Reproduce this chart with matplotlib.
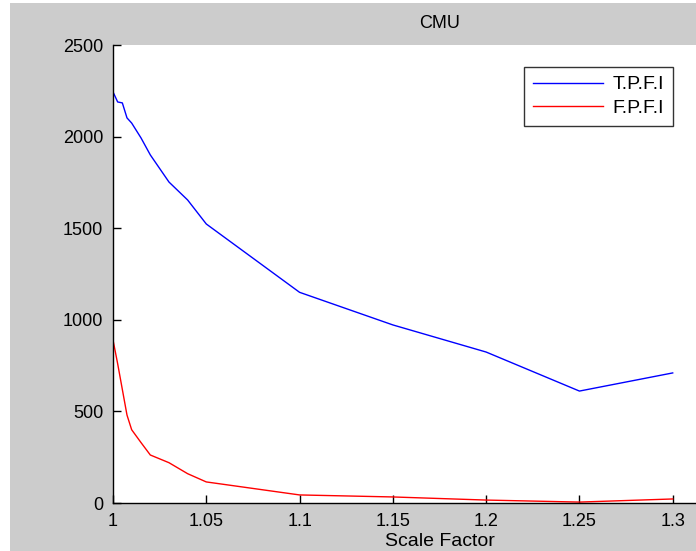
# CMU: T.P.F.I / F.P.F.I against scale factor, MATLAB-like look
import matplotlib.pyplot as plt
from matplotlib.patches import Rectangle

plt.rcParams.update({'font.size': 13, 'font.family': ['Liberation Sans', 'DejaVu Sans']})

scale_factor = [1.0, 1.0025, 1.005, 1.0075, 1.01, 1.015, 1.02, 1.03, 1.04, 1.05,
                1.1, 1.15, 1.2, 1.25, 1.3]
tpfi = [2244, 2189, 2184, 2102, 2074, 1993, 1900, 1752, 1654, 1523,
        1150, 972, 824, 611, 710]
fpfi = [890, 760, 620, 480, 400, 330, 262, 220, 160, 115,
        44, 33, 16, 5, 22]

x_ticks = [1, 1.05, 1.1, 1.15, 1.2, 1.25, 1.3]
x_tick_labels = ['1', '1.05', '1.1', '1.15', '1.2', '1.25', '1.3']
y_ticks = [0, 500, 1000, 1500, 2000, 2500]

W, H = 696, 551
fig = plt.figure(figsize=(W / 100, H / 100), dpi=100, facecolor='#cccccc')

# white strips of the screenshot crop
fig.patches.append(Rectangle((0, 0), 10 / W, 1, transform=fig.transFigure,
                             facecolor='white', edgecolor='none', zorder=-1))
fig.patches.append(Rectangle((0, 1 - 3 / H), 1, 3 / H, transform=fig.transFigure,
                             facecolor='white', edgecolor='none', zorder=-1))

# axes run past the right edge (image was cropped)
ax = fig.add_axes([113 / W, 48 / H, 653 / W, 458 / H])
ax.set_facecolor('white')

ax.plot(scale_factor, tpfi, color='#0000ff', lw=1.0, label='T.P.F.I')
ax.plot(scale_factor, fpfi, color='#ff0000', lw=1.0, label='F.P.F.I')

ax.set_xlim(1, 1.35)
ax.set_ylim(0, 2500)
ax.set_xticks(x_ticks)
ax.set_xticklabels(x_tick_labels)
ax.set_yticks(y_ticks)
ax.tick_params(direction='in', length=6, width=1, labelsize=13)
ax.tick_params(axis='x', pad=7)
ax.tick_params(axis='y', pad=7)
ax.spines['top'].set_visible(False)
ax.spines['right'].set_visible(False)
for s in ('left', 'bottom'):
    ax.spines[s].set_linewidth(1)

ax.set_title('CMU', pad=12, fontsize=13)
ax.set_xlabel('Scale Factor', labelpad=2, fontsize=14)

leg = ax.legend(loc='upper left', bbox_to_anchor=(524 / W, 1 - 67 / H),
                bbox_transform=fig.transFigure, borderaxespad=0,
                fancybox=False, edgecolor='#333333', framealpha=1, fontsize=14,
                handlelength=3.6, borderpad=0.45, labelspacing=0.3, handletextpad=0.5)
leg.get_frame().set_linewidth(1)

fig.savefig('out.png', dpi=100, facecolor=fig.get_facecolor())
